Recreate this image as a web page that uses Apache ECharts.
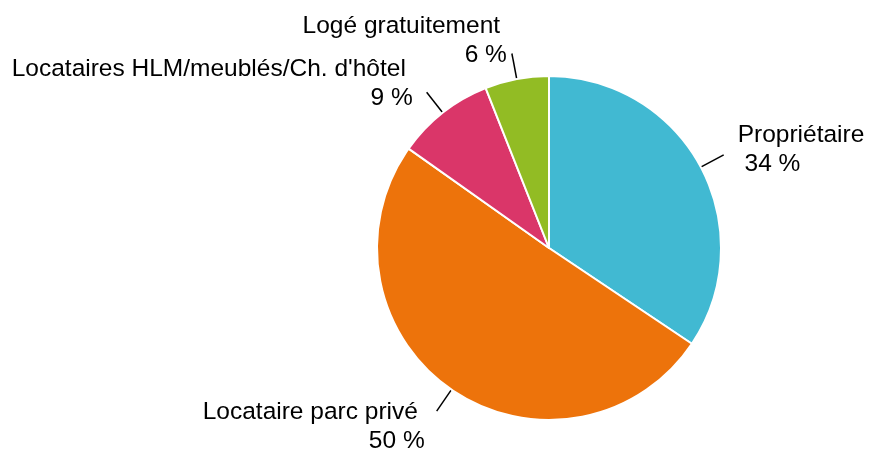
<!DOCTYPE html>
<html>
<head>
<meta charset="utf-8">
<script src="https://cdn.jsdelivr.net/npm/echarts@6/dist/echarts.min.js"></script>
<style>
  html, body { margin: 0; padding: 0; background: #fff; }
  #chart { width: 871px; height: 453px; }
</style>
</head>
<body>
<div id="chart"></div>
<script>
const categories = ['Propriétaire', 'Locataire parc privé', 'Locataires HLM/meublés/Ch. d\'hôtel', 'Logé gratuitement'];
const shares = [34.4, 50.4, 9.2, 6.0];
const colors = ['#41B9D2', '#ED730B', '#DA3669', '#92BC24'];
// horizontal gap between line end and text, and vertical shift of text block
const labelGap = [14, 12, 14, 5];
const labelShift = [-5, 16, -9, -13];

const myChart = echarts.init(document.getElementById('chart'));

const data = categories.map(function (name, i) {
  const onLeft = i > 0;
  return {
    name: name,
    value: shares[i],
    itemStyle: { color: colors[i] },
    label: { padding: onLeft ? [0, labelGap[i], 0, 0] : [0, 0, 0, labelGap[i]] }
  };
});

const option = {
  backgroundColor: '#fff',
  animation: false,
  series: [
    {
      type: 'pie',
      center: [549, 248],
      radius: 172,
      startAngle: 90,
      clockwise: true,
      avoidLabelOverlap: false,
      itemStyle: {
        borderColor: '#fff',
        borderWidth: 2
      },
      label: {
        show: true,
        position: 'outside',
        distanceToLabelLine: 0,
        color: '#000',
        fontFamily: 'Liberation Sans, Arial, sans-serif',
        fontSize: 24.5,
        lineHeight: 29,
        formatter: function (p) {
          return p.name + ' \n ' + Math.round(p.value) + ' %';
        }
      },
      labelLine: {
        show: true,
        length: 26,
        length2: 0,
        smooth: false,
        lineStyle: {
          color: '#000',
          width: 1.5
        }
      },
      labelLayout: function (params) {
        return {
          hideOverlap: false,
          moveOverlap: null,
          dy: labelShift[params.dataIndex]
        };
      },
      emphasis: { disabled: true },
      data: data
    }
  ]
};

myChart.setOption(option);
</script>
</body>
</html>
